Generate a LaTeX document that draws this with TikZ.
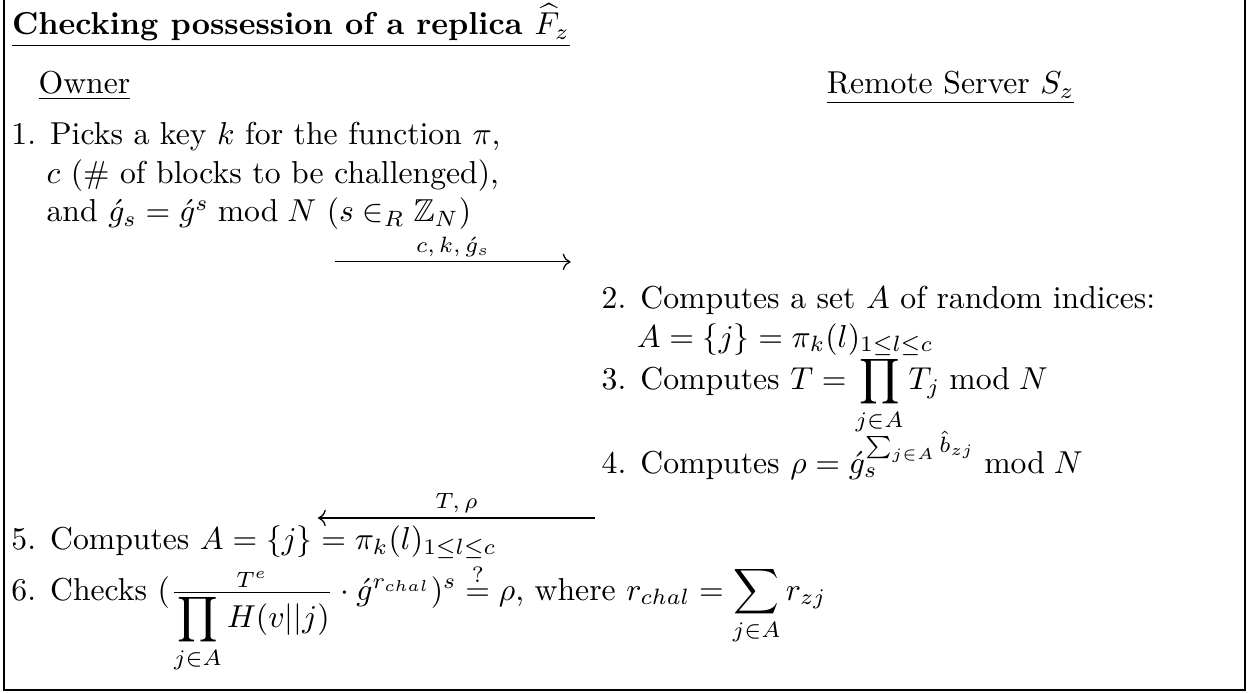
\documentclass[tikz,border=0pt]{standalone}
\usepackage{amsmath,amssymb}
\usetikzlibrary{arrows.meta}

\begin{document}
\begin{tikzpicture}[x=1pt, y=-1pt,
    every node/.style={inner sep=0pt, anchor=base west},
    msg/.style={line width=0.4pt, -{Computer Modern Rightarrow}},
    lbl/.style={font=\scriptsize, anchor=base, yshift=3pt}]
  \useasboundingbox (0,0) rectangle (394,218.3);
  \draw[line width=0.5pt] (1.3,0) -- (1.3,217.7) -- (392.7,217.7) -- (392.7,0);

  \node (title) at (3.6,11) {\textbf{\underline{Checking possession of a replica $\widehat{F}_z$}}};
  \node (owner) at (12,29.5) {\underline{Owner}};
  \node (server) at (260.6,29.5) {\underline{Remote Server $S_z$}};

  % owner: challenge
  \node (s1a) at (3.4,45.7) {1. Picks a key $k$ for the function $\pi$,};
  \node (s1b) at (14.5,57.8) {$c$ (\# of blocks to be challenged),};
  \node (s1c) at (14.5,69.9) {and $\acute{g}_s = \acute{g}^s \bmod N$ ($s \in_R \mathbb{Z}_N$)};

  \coordinate (m1s) at (105.7,82.6);
  \coordinate (m1e) at (180,82.6);
  \draw[msg] (m1s) -- node[lbl] (m1l) {$c, k, \acute{g}_s$} (m1e);

  % server: response
  \node (s2a) at (189.6,97.2) {2. Computes a set $A$ of random indices:};
  \node (s2b) at (200.7,109.5) {$A = \{j\} = \pi_k(l)_{1\leq l\leq c}$};
  \node (s3) at (189.6,123) {3. Computes $T = \displaystyle\prod_{j\in A} T_j \bmod N$};
  \node (s4) at (189.6,149.5) {4. Computes $\rho = \acute{g}_s^{\sum_{j\in A}\hat{b}_{zj}} \bmod N$};

  \coordinate (m2s) at (187.7,163.4);
  \coordinate (m2e) at (100.3,163.4);
  \draw[msg] (m2s) -- node[lbl] (m2l) {$T, \rho$} (m2e);

  % owner: verification
  \node (s5) at (3.4,173.4) {5. Computes $A = \{j\} = \pi_k(l)_{1\leq l\leq c}$};
  \node (s6) at (3.4,189.3) {6. Checks $(\frac{T^e}{\displaystyle\prod_{j\in A} H(v||j)} \cdot \acute{g}^{r_{chal}})^s \stackrel{?}{=} \rho$, where $r_{chal} = \displaystyle\sum_{j\in A} r_{zj}$};
\end{tikzpicture}
\end{document}
